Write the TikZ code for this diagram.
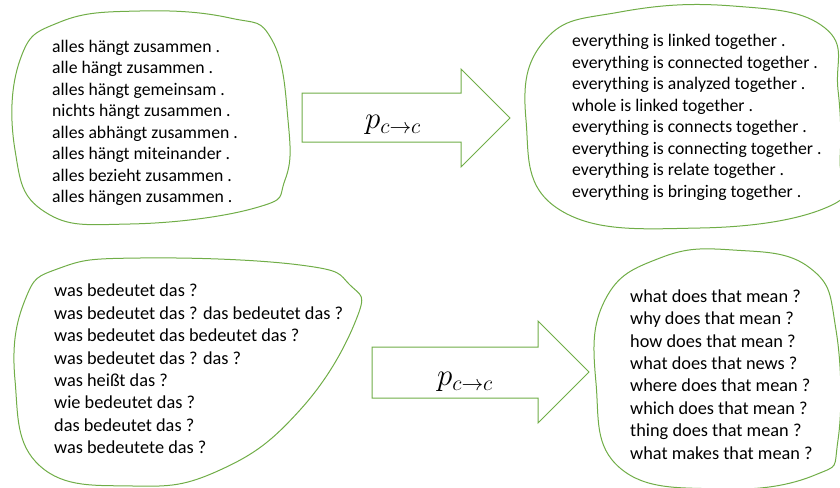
\RequirePackage{fix-cm}
\documentclass[tikz,border=0pt]{standalone}
\usepackage{fontspec}
\setmainfont{Carlito}
\definecolor{lgreen}{HTML}{70AD47}
\begin{document}
\begin{tikzpicture}[x=1pt,y=-1pt,
  blob/.style={draw=lgreen, line width=1pt},
  barrow/.style={draw=lgreen, line width=1pt, fill=white, line join=miter},
  txtA/.style={anchor=west, align=left, inner sep=0pt, font=\fontsize{17.7}{21.5}\selectfont},
  txtB/.style={anchor=west, align=left, inner sep=0pt, font=\fontsize{18.3}{22.4}\selectfont},
  lbl/.style={inner sep=0pt, font=\fontsize{31}{36}\selectfont}]
\useasboundingbox (0,0) rectangle (840,487);

% blobs
\draw[blob] plot[smooth cycle, tension=0.75] coordinates {(140,11) (230,18) (272,40) (288,120) (285,180) (255,208) (130,224) (45,212) (15,150) (20,60) (60,22)};
\draw[blob] plot[smooth cycle, tension=0.75] coordinates {(733,6) (825,28) (838,90) (840,160) (832,205) (700,228) (560,210) (526,120) (545,40) (620,12)};
\draw[blob] plot[smooth cycle, tension=0.75] coordinates {(140,258) (300,265) (350,285) (356,320) (300,410) (220,470) (133,486) (40,466) (15,380) (25,300) (60,268)};
\draw[blob] plot[smooth cycle, tension=0.75] coordinates {(733,250) (810,268) (836,330) (838,440) (815,475) (720,489) (620,468) (596,383) (605,300) (660,258)};

% text blocks
\node[txtA] (de1) at (52,123) {alles hängt zusammen .\\alle hängt zusammen .\\alles hängt gemeinsam .\\nichts hängt zusammen .\\alles abhängt zusammen .\\alles hängt miteinander .\\alles bezieht zusammen .\\alles hängen zusammen .};
\node[txtA] (en1) at (572,117.5) {everything is linked together .\\everything is connected together .\\everything is analyzed together .\\whole is linked together .\\everything is connects together .\\everything is connecting together .\\everything is relate together .\\everything is bringing together .};
\node[txtB] (de2) at (54,369) {was bedeutet das ?\\was bedeutet das ? das bedeutet das ?\\was bedeutet das bedeutet das ?\\was bedeutet das ? das ?\\was heißt das ?\\wie bedeutet das ?\\das bedeutet das ?\\was bedeutete das ?};
\node[txtB] (en2) at (630,374.5) {what does that mean ?\\why does that mean ?\\how does that mean ?\\what does that news ?\\where does that mean ?\\which does that mean ?\\thing does that mean ?\\what makes that mean ?};

% block arrows
\draw[barrow] (302,93) -- (461,93) -- (461,69) -- (510,118) -- (461,167) -- (461,142) -- (302,142) -- cycle;
\node[lbl] (p1) at (393,125) {$p_{c\to c}$};
\draw[barrow] (372,347) -- (538,347) -- (538,321) -- (589,372) -- (538,423) -- (538,398) -- (372,398) -- cycle;
\node[lbl] (p2) at (465,382) {$p_{c\to c}$};
\end{tikzpicture}
\end{document}
